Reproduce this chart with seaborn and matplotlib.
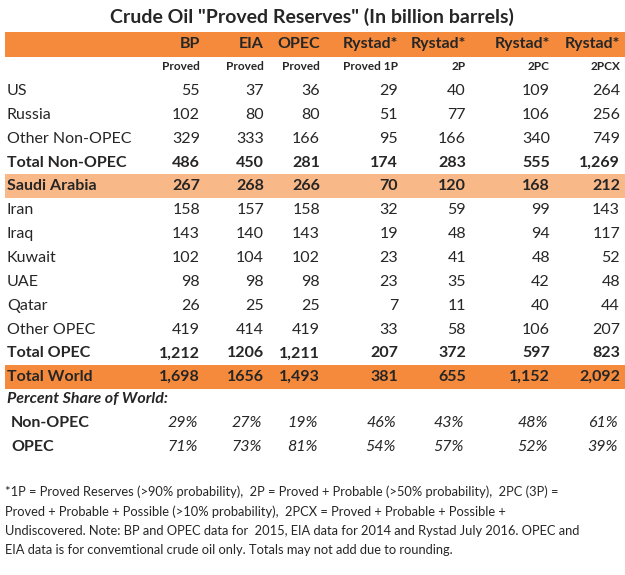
import matplotlib
matplotlib.use("Agg")
import matplotlib.pyplot as plt
import seaborn as sns

sns.set_theme(style="white")
plt.rcParams['font.family'] = ['Lato', 'DejaVu Sans']

title = 'Crude Oil "Proved Reserves" (In billion barrels)'
sources = ["BP", "EIA", "OPEC", "Rystad*", "Rystad*", "Rystad*", "Rystad*"]
measures = ["Proved", "Proved", "Proved", "Proved 1P", "2P", "2PC", "2PCX"]
rows = ["US", "Russia", "Other Non-OPEC", "Total Non-OPEC", "Saudi Arabia", "Iran", "Iraq",
        "Kuwait", "UAE", "Qatar", "Other OPEC", "Total OPEC", "Total World"]
values = [
    ["55", "37", "36", "29", "40", "109", "264"],
    ["102", "80", "80", "51", "77", "106", "256"],
    ["329", "333", "166", "95", "166", "340", "749"],
    ["486", "450", "281", "174", "283", "555", "1,269"],
    ["267", "268", "266", "70", "120", "168", "212"],
    ["158", "157", "158", "32", "59", "99", "143"],
    ["143", "140", "143", "19", "48", "94", "117"],
    ["102", "104", "102", "23", "41", "48", "52"],
    ["98", "98", "98", "23", "35", "42", "48"],
    ["26", "25", "25", "7", "11", "40", "44"],
    ["419", "414", "419", "33", "58", "106", "207"],
    ["1,212", "1206", "1,211", "207", "372", "597", "823"],
    ["1,698", "1656", "1,493", "381", "655", "1,152", "2,092"],
]
bold_rows = {"Total Non-OPEC", "Saudi Arabia", "Total OPEC", "Total World"}
share_label = "Percent Share of World:"
share_rows = ["Non-OPEC", "OPEC"]
share_vals = [
    ["29%", "27%", "19%", "46%", "43%", "48%", "61%"],
    ["71%", "73%", "81%", "54%", "57%", "52%", "39%"],
]
footnote = [
    "*1P = Proved Reserves (>90% probability),  2P = Proved + Probable (>50% probability),  2PC (3P) =",
    "Proved + Probable + Possible (>10% probability),  2PCX = Proved + Probable + Possible +",
    "Undiscovered. Note: BP and OPEC data for  2015, EIA data for 2014 and Rystad July 2016. OPEC and",
    "EIA data is for convemtional crude oil only. Totals may not add due to rounding.",
]

ORANGE = "#F58A3C"
LIGHT = "#F8B887"
col_x = [200, 264, 320, 398, 466, 550, 620]

fig = plt.figure(figsize=(6.25, 5.75), dpi=100)
ax = fig.add_axes([0, 0, 1, 1])
ax.set_xlim(0, 625)
ax.set_ylim(575, 0)
ax.axis("off")

ax.text(312, 17, title, ha="center", va="center", fontsize=14, fontweight="bold")
ax.axhspan(32, 57, xmin=5/625, xmax=1, color=ORANGE, lw=0)
for x, s, m in zip(col_x, sources, measures):
    ax.text(x, 44, s, ha="right", va="center", fontsize=11.5, fontweight="bold")
    ax.text(x, 67, m, ha="right", va="center", fontsize=8.5, fontweight="bold")

y0 = 91
step = 23.85
for i, (r, vals) in enumerate(zip(rows, values)):
    y = y0 + i * step
    w = "bold" if r in bold_rows else "normal"
    if r == "Saudi Arabia":
        ax.axhspan(y - 12, y + 12, xmin=5/625, xmax=1, color=LIGHT, lw=0)
    if r == "Total World":
        ax.axhspan(y - 12, y + 12, xmin=5/625, xmax=1, color=ORANGE, lw=0)
    ax.text(7, y, r, ha="left", va="center", fontsize=11.5, fontweight=w)
    for x, v in zip(col_x, vals):
        ax.text(x, y, v, ha="right", va="center", fontsize=11.5, fontweight=w)

ax.text(7, 399, share_label, ha="left", va="center", fontsize=11.5, fontweight="bold", style="italic")
for j, (r, vals) in enumerate(zip(share_rows, share_vals)):
    y = 423 + j * 24
    ax.text(11, y, r, ha="left", va="center", fontsize=11.5, fontweight="bold")
    for x, v in zip(col_x, vals):
        ax.text(x - 2, y, v, ha="right", va="center", fontsize=11.5, style="italic")

for k, line in enumerate(footnote):
    ax.text(5, 492 + k * 19.5, line, ha="left", va="center", fontsize=9.3)

fig.savefig("out.png", dpi=100)
